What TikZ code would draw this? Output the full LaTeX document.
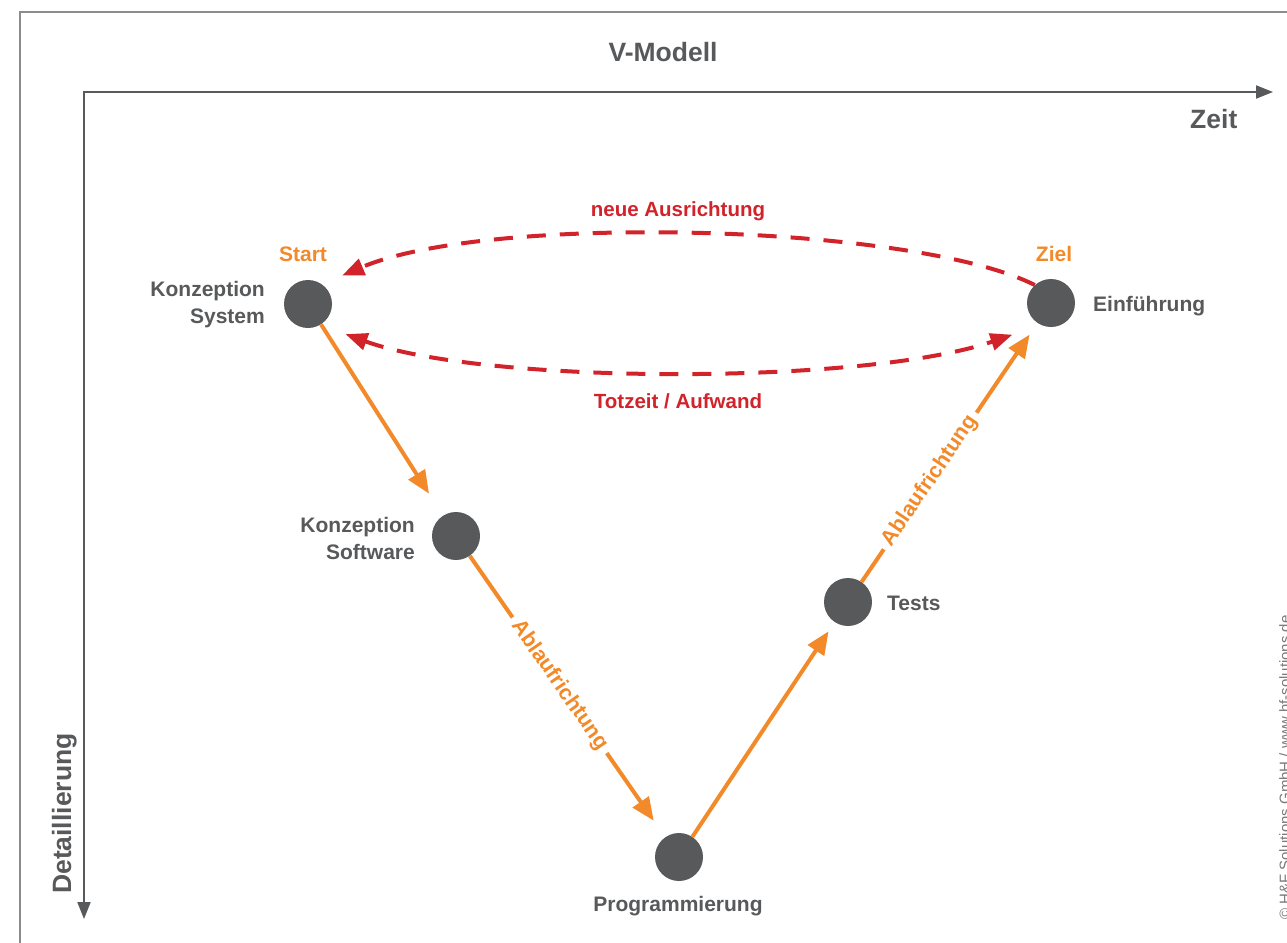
\documentclass[tikz,border=0pt]{standalone}
\usepackage{fontspec}
\setmainfont{Liberation Sans}
\usetikzlibrary{arrows.meta}
\definecolor{dgray}{HTML}{58595B}
\definecolor{fgray}{HTML}{8C8C8C}
\definecolor{cgray}{HTML}{7A7A7A}
\definecolor{vorange}{HTML}{F28A2A}
\definecolor{vred}{HTML}{D2232A}
\tikzset{
  vnode/.style={circle, fill=dgray, minimum size=48pt, inner sep=0pt},
  lab/.style={text=dgray, inner sep=0pt, font=\fontsize{21}{27}\selectfont\bfseries},
  titlelab/.style={text=dgray, inner sep=0pt, font=\fontsize{26.5}{30}\selectfont\bfseries},
  olab/.style={text=vorange, inner sep=0pt, font=\fontsize{21}{27}\selectfont\bfseries},
  rlab/.style={text=vred, inner sep=0pt, font=\fontsize{20.5}{25}\selectfont\bfseries},
  flow/.style={draw=vorange, line width=4pt, -{Triangle[length=23pt,width=19pt]}},
  flowlab/.style={sloped, fill=white, inner sep=6pt, text=vorange, font=\fontsize{21.5}{25}\selectfont\bfseries},
  back/.style={draw=vred, line width=4pt, dash pattern=on 19pt off 14pt},
  axisline/.style={draw=dgray, line width=2pt},
  frameline/.style={draw=fgray, line width=1.5pt}
}
\begin{document}
\begin{tikzpicture}[x=1pt, y=-1pt]
\fill[white] (0,0) rectangle (1287,942);
\useasboundingbox (0,0) rectangle (1287,942);
% outer frame
\draw[frameline] (20,945) -- (20,12) -- (1290,12);
% axes
\coordinate (origin) at (84,92);
\coordinate (xend) at (1273,92);
\coordinate (yend) at (84,919);
\draw[axisline, {Triangle[length=17pt,width=13pt]}-{Triangle[length=17pt,width=13pt]}] (yend) -- (origin) -- (xend);
\node[titlelab, anchor=base] (title) at (663,62) {V-Modell};
\node[titlelab, anchor=base west] (zeit) at (1190,128) {Zeit};
\node[titlelab, rotate=90, anchor=base west] (detail) at (71,894) {Detaillierung};
% nodes
\node[vnode] (sys) at (308,304) {};
\node[vnode] (sw) at (456,536) {};
\node[vnode] (prog) at (679,857) {};
\node[vnode] (tests) at (848,602) {};
\node[vnode] (ein) at (1051,303) {};
% labels
\node[olab, anchor=base] (start) at (303,261.5) {Start};
\node[olab, anchor=base] (ziel) at (1054,261.5) {Ziel};
\node[lab, align=right, anchor=east] (sysl) at (265,305) {Konzeption\\System};
\node[lab, align=right, anchor=east] (swl) at (415,538) {Konzeption\\Software};
\node[lab, anchor=base] (progl) at (678,911.5) {Programmierung};
\node[lab, anchor=base west] (testsl) at (887,610.5) {Tests};
\node[lab, anchor=base west] (einl) at (1093,311.5) {Einführung};
\node[rlab, anchor=base] (neu) at (678,216) {neue Ausrichtung};
\node[rlab, anchor=base] (tot) at (678,408.5) {Totzeit / Aufwand};
% orange flow
\draw[flow, shorten >=26pt] (sys) -- (sw);
\draw[flow, shorten >=20pt] (sw) -- node[flowlab, pos=0.46] {Ablaufrichtung} (prog);
\draw[flow, shorten >=11pt] (prog) -- (tests);
\draw[flow, shorten >=14pt] (tests) -- node[flowlab, pos=0.39] {Ablaufrichtung} (ein);
% red dashed loops
\draw[back, -{Triangle[length=22pt,width=17pt]}, shorten >=22pt]
  (ein.132) .. controls (913,224) and (489,213) .. (sys.55);
\draw[back, {Triangle[length=22pt,width=17pt]}-{Triangle[length=22pt,width=17pt]}, shorten <=27pt, shorten >=30pt]
  (sys.-60) .. controls (486,385) and (866,385) .. (ein.-115);
% copyright
\node[rotate=90, anchor=base west, inner sep=0pt, text=cgray, font=\fontsize{15}{18}\selectfont] (copy) at (1290,920) {© H\&F Solutions GmbH / www.hf-solutions.de};
\end{tikzpicture}
\end{document}
